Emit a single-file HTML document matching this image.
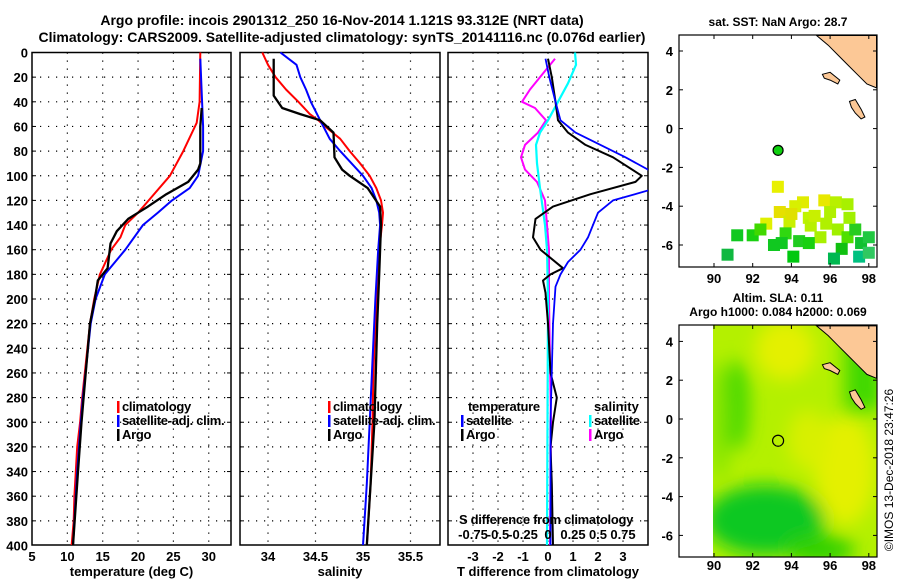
<!DOCTYPE html>
<html><head><meta charset="utf-8">
<style>
body{margin:0;background:#fff;width:900px;height:580px;overflow:hidden}
svg{display:block;font-family:"Liberation Sans",sans-serif;font-weight:bold}
text{fill:#000}
</style></head>
<body>
<svg id="chart" width="900" height="580" viewBox="0 0 900 580">
<defs>
<clipPath id="c1"><rect x="32" y="52" width="199" height="493"/></clipPath>
<clipPath id="c2"><rect x="240" y="52" width="200" height="493"/></clipPath>
<clipPath id="c3"><rect x="448" y="52" width="200" height="493"/></clipPath>
<clipPath id="cm2"><rect x="713" y="325" width="164" height="232"/></clipPath>
<filter id="bl" x="-50%" y="-50%" width="200%" height="200%"><feGaussianBlur stdDeviation="9"/></filter>
</defs>
<text x="342" y="25" font-size="14" text-anchor="middle">Argo profile: incois 2901312_250 16-Nov-2014 1.121S 93.312E (NRT data)</text>
<text x="342" y="42" font-size="14" text-anchor="middle">Climatology: CARS2009. Satellite-adjusted climatology: synTS_20141116.nc (0.076d earlier)</text>
<g id="grids"></g>
<g id="series"></g>
<g id="labels"></g>
<g id="maps"></g>
<text transform="translate(893,470) rotate(-90)" font-size="12" font-weight="normal" text-anchor="middle">©IMOS 13-Dec-2018 23:47:26</text>
</svg>
<script>
// ---------- data ----------
const depthTicks = [0,20,40,60,80,100,120,140,160,180,200,220,240,260,280,300,320,340,360,380,400];
const tempTicks = [5,10,15,20,25,30];
const salTicks = [34,34.5,35,35.5];
const tdiffTicks = [-3,-2,-1,0,1,2,3];
const sdiffTicks = [-0.75,-0.5,-0.25,0,0.25,0.5,0.75];
const sdiffLabels = ["-0.75","-0.5","-0.25","0","0.25","0.5","0.75"];

const climTDepth = [0,40,57,80,100,120,130,140,150,160,180,200,220,280,300,320,340,360,380,400];
const climTVal   = [28.8,28.7,28.3,26.4,24.5,21.5,20.0,18.2,17.5,16.2,14.6,13.8,13.2,12.1,11.8,11.4,11.2,11.0,10.9,10.6];
const satTDepth = [5,60,80,100,110,120,130,140,160,180,200,220,280,300,340,400];
const satTVal   = [28.8,29.2,29.2,28.5,27.3,24.8,22.8,20.7,18.2,15.3,14.0,13.3,12.2,11.9,11.4,10.8];
const argoTDepth = [45,60,90,95,105,115,125,130,135,145,155,175,185,200,220,280,300,340,400];
const argoTVal   = [29.0,28.8,28.8,28.5,27.1,24.0,21.4,20.0,18.6,17.0,16.1,15.7,14.3,13.9,13.2,12.3,12.0,11.5,10.8];

const climSDepth = [0,10,20,30,40,50,55,60,70,80,90,100,110,120,130,140,160,180,200,220,260,300,350,400];
const climSVal   = [33.94,34.0,34.08,34.19,34.32,34.44,34.53,34.6,34.76,34.86,34.97,35.07,35.14,35.19,35.21,35.2,35.17,35.15,35.14,35.13,35.11,35.1,35.08,35.04];
const satSDepth = [0,10,20,30,40,55,70,80,100,110,120,130,140,160,200,250,300,350,400];
const satSVal   = [34.13,34.3,34.34,34.4,34.45,34.55,34.65,34.76,35.0,35.09,35.14,35.17,35.18,35.16,35.13,35.1,35.07,35.04,35.0];
const argoSDepth = [5,35,45,50,55,65,85,95,100,110,125,140,180,220,300,400];
const argoSVal   = [34.06,34.06,34.15,34.34,34.55,34.69,34.7,34.78,34.86,35.05,35.18,35.19,35.17,35.15,35.12,35.04];

const argoTdDepth = [5,20,40,55,65,75,85,100,105,115,125,135,150,160,175,180,185,195,220,260,280,300,320,350,400];
const argoTdVal   = [0,0.15,0.3,0.4,0.8,1.5,2.6,3.75,3.5,1.7,0.2,-0.5,-0.6,-0.3,0.6,0.1,-0.2,-0.1,0,0.1,0.35,0.2,0.1,0.15,0.2];
const satTdDepth = [5,20,40,55,65,75,85,95,104,112,120,130,140,150,160,170,180,190,220,300,400];
const satTdVal   = [-0.1,0.05,0.3,0.5,1.1,2.1,3.1,4.0,5.0,4.0,2.6,2.0,1.8,1.6,1.3,0.8,0.5,0.3,0.2,0.1,0.1];
const argoSdDepth = [5,15,30,40,45,55,65,75,85,95,105,120,140,160,200,300,400];
const argoSdVal   = [0.07,-0.03,-0.18,-0.26,-0.13,-0.02,-0.1,-0.23,-0.27,-0.23,-0.11,-0.03,-0.01,0.01,0.01,0.03,0.02];
const satSdDepth = [0,10,25,40,55,65,75,90,110,140,160,200,400];
const satSdVal   = [0.27,0.28,0.2,0.1,0,-0.08,-0.12,-0.11,-0.08,-0.03,-0.01,0,-0.01];

const lonTicks = [90,92,94,96,98];
const latTicks = [4,2,0,-2,-4,-6];
const argoLon = 93.312, argoLat = -1.121;
const sstLon = [93.3,94.6,95.7,93.4,94.2,94.9,96.3,96.9,92.7,93.9,95.0,95.8,96.4,91.2,92.0,93.7,94.4,95.5,96.9,97.3,97.6,98.0,93.1,94.9,96.6,90.7,94.1,96.2,97.5,98.0,94.0,95.2,96.0,97.0,92.4,93.5];
const sstLat = [-3.0,-3.8,-3.7,-4.3,-4.0,-4.6,-3.8,-3.9,-4.9,-4.8,-5.0,-4.9,-5.2,-5.5,-5.5,-5.4,-5.8,-5.6,-5.6,-5.2,-5.9,-5.6,-6.0,-5.9,-6.2,-6.5,-6.6,-6.7,-6.6,-6.4,-4.4,-4.5,-4.3,-4.6,-5.2,-5.9];
const sstCol = ["#e8f000","#e0ec00","#e8e800","#e6e000","#d8f000","#c0f400","#b8f000","#a8f000","#e0f000","#c8f000","#b8f000","#b0f000","#a0f000","#10c820","#18d010","#30d810","#20cc20","#a8f000","#50e000","#28cc20","#10c030","#20c840","#10c820","#18d010","#10c010","#10b840","#00c810","#00b850","#00c080","#30c860","#e0e000","#c8f000","#b0f000","#a0f000","#40d800","#10c820"];
// ---------- scales ----------
const y = d => 52.5 + d*1.2325;
const tx = v => 32 + (v-5)*7.07;
const sx = v => 268 + (v-34)*95;
const dx = v => 548 + v*25;
const sdx = v => 548 + v*100;
const m1x = l => 714 + (l-90)*19.35;
const m1y = la => 51 - (la-4)*19.4;
const m2y = la => 419 - la*19.4;
const NS = "http://www.w3.org/2000/svg";
function mk(tag, attrs, parent){const e=document.createElementNS(NS,tag);for(const k in attrs)e.setAttribute(k,attrs[k]);parent.appendChild(e);return e;}
const G = document.getElementById('grids'), S = document.getElementById('series'), L = document.getElementById('labels'), M = document.getElementById('maps');

const panels = [
 {x0:32,x1:231,ticks:tempTicks,f:tx,name:'temperature-panel',xl:'temperature (deg C)'},
 {x0:240,x1:440,ticks:salTicks,f:sx,name:'salinity-panel',xl:'salinity'},
 {x0:448,x1:648,ticks:tdiffTicks,f:dx,name:'difference-panel',xl:'T difference from climatology'}];
panels.forEach((p,i)=>{
  const g = mk('g',{},G);
  
  
  depthTicks.forEach(d=>{ if(d>0&&d<400){ const l=mk('line',{x1:p.x0,x2:p.x1,y1:y(d),y2:y(d),stroke:'#000','stroke-width':1.2,'stroke-dasharray':'1.2 6.8'},g);
     
    mk('line',{x1:p.x0,x2:p.x0+4,y1:y(d),y2:y(d),stroke:'#000'},g); mk('line',{x1:p.x1-4,x2:p.x1,y1:y(d),y2:y(d),stroke:'#000'},g);} });
  p.ticks.forEach(t=>{ const X=p.f(t); if(X>p.x0+2&&X<p.x1-2){ const l=mk('line',{x1:X,x2:X,y1:52.5,y2:545,stroke:'#000','stroke-width':1.2,'stroke-dasharray':'1.2 6.8'},g);
      }
    const tt=mk('text',{x:X,y:561,'font-size':13,'text-anchor':'middle'},L); tt.textContent=String(t);
      });
  const r=mk('rect',{x:p.x0,y:52.5,width:p.x1-p.x0,height:492.5,fill:'none',stroke:'#000','stroke-width':1.5},g);
   
  const xl=mk('text',{x:(p.x0+p.x1)/2,y:576,'font-size':13,'text-anchor':'middle'},L); xl.textContent=p.xl;
   
});
depthTicks.forEach(d=>{ const t=mk('text',{x:28,y:y(d)+5,'font-size':13,'text-anchor':'end'},L); t.textContent=String(d);
    });

function line(ds, vs, f, color, w, clip, name){
  const pts = ds.map((d,i)=>f(vs[i]).toFixed(1)+','+y(d).toFixed(1)).join(' ');
  const e = mk('polyline',{points:pts,fill:'none',stroke:color,'stroke-width':w,'stroke-linejoin':'round','clip-path':'url(#'+clip+')'},S);
  
  
}
line(climTDepth,climTVal,tx,'#f00',2,'c1','climatology-temperature-line');
line(satTDepth,satTVal,tx,'#00f',2,'c1','satellite-temperature-line');
line(argoTDepth,argoTVal,tx,'#000',2.3,'c1','argo-temperature-line');
line(climSDepth,climSVal,sx,'#f00',2,'c2','climatology-salinity-line');
line(satSDepth,satSVal,sx,'#00f',2,'c2','satellite-salinity-line');
line(argoSDepth,argoSVal,sx,'#000',2.3,'c2','argo-salinity-line');
line(argoSdDepth,argoSdVal,sdx,'#f0f',2,'c3','argo-s-diff-line');
line(satSdDepth,satSdVal,sdx,'#0ff',2.2,'c3','satellite-s-diff-line');
line(argoTdDepth,argoTdVal,dx,'#000',2,'c3','argo-t-diff-line');
line(satTdDepth,satTdVal,dx,'#00f',1.8,'c3','satellite-t-diff-line');

function legend(x, yy, color, label, name){
  const g=mk('g',{},L);
  
  
  mk('rect',{x:x,y:yy-10,width:2.5,height:12,fill:color},g);
  const t=mk('text',{x:x+5,y:yy,'font-size':13,'letter-spacing':'-0.3'},g); t.textContent=label;
}
legend(117,411,'#f00','climatology','legend-climatology');
legend(117,425,'#00f','satellite-adj. clim.','legend-satellite');
legend(117,439,'#000','Argo','legend-argo');
legend(328,411,'#f00','climatology','legend-climatology-2');
legend(328,425,'#00f','satellite-adj. clim.','legend-satellite-2');
legend(328,439,'#000','Argo','legend-argo-2');
let t=mk('text',{x:468,y:411,'font-size':13,'letter-spacing':'-0.3'},L); t.textContent='temperature';
 
t=mk('text',{x:594,y:411,'font-size':13},L); t.textContent='salinity';
 
legend(461,425,'#00f','satellite','legend-t-satellite');
legend(461,439,'#000','Argo','legend-t-argo');
legend(589,425,'#0ff','satellite','legend-s-satellite');
legend(589,439,'#f0f','Argo','legend-s-argo');
t=mk('text',{x:546,y:524,'font-size':13,'text-anchor':'middle','letter-spacing':'-0.3'},L); t.textContent='S difference from climatology';
 
sdiffTicks.forEach((v,i)=>{ const e=mk('text',{x:sdx(v),y:539,'font-size':13,'text-anchor':'middle'},L); e.textContent=sdiffLabels[i];
    });

// ---------- maps ----------
function land(g, fy){
  const P = (pts)=>pts.map(p=>m1x(p[0]).toFixed(1)+','+fy(p[1]).toFixed(1)).join(' ');
  const a=mk('polygon',{points:P([[95.3,4.8],[98.4,4.8],[98.4,2.1],[97.9,2.3],[97.4,2.8],[96.9,3.3],[96.4,3.8],[95.9,4.3]]),fill:'#fcc896',stroke:'#000','stroke-width':1},g);
   
  const b=mk('polygon',{points:P([[95.6,2.8],[96.0,2.9],[96.5,2.5],[96.4,2.3],[96.0,2.5],[95.7,2.6]]),fill:'#fcc896',stroke:'#000','stroke-width':1},g);
   
  const c=mk('polygon',{points:P([[97.0,1.4],[97.3,1.5],[97.6,1.0],[97.8,0.6],[97.6,0.5],[97.3,0.8],[97.1,1.1]]),fill:'#fcc896',stroke:'#000','stroke-width':1},g);
   
}
function axes(g, x0, y0, w, h, fy, lonY){
  latTicks.forEach(la=>{ const Y=fy(la);
    mk('line',{x1:x0,x2:x0+4,y1:Y,y2:Y,stroke:'#000'},g); mk('line',{x1:x0+w-4,x2:x0+w,y1:Y,y2:Y,stroke:'#000'},g);
    const e=mk('text',{x:673,y:Y+5,'font-size':13,'text-anchor':'end'},g); e.textContent=String(la);
      });
  lonTicks.forEach(lo=>{ const X=m1x(lo);
    mk('line',{x1:X,x2:X,y1:y0,y2:y0+4,stroke:'#000'},g); mk('line',{x1:X,x2:X,y1:y0+h-4,y2:y0+h,stroke:'#000'},g);
    const e=mk('text',{x:X,y:lonY,'font-size':13,'text-anchor':'middle'},g); e.textContent=String(lo);
      });
  const r=mk('rect',{x:x0,y:y0,width:w,height:h,fill:'none',stroke:'#000','stroke-width':1.2},g);
   
}
const g1=mk('g',{},M);
 
t=mk('text',{x:778,y:26,'font-size':12,'text-anchor':'middle'},g1); t.textContent='sat. SST: NaN Argo: 28.7';
 
sstLon.forEach((lo,i)=>{ const r=mk('rect',{x:m1x(lo)-6,y:m1y(sstLat[i])-6,width:12,height:12,fill:sstCol[i]},g1);
    });
land(g1,m1y);
let ap=mk('circle',{cx:m1x(argoLon),cy:m1y(argoLat),r:5,fill:'#10d010',stroke:'#000','stroke-width':1.2},g1);
 
axes(g1,679,35,198,232,m1y,283);

const g2=mk('g',{},M);
 
t=mk('text',{x:778,y:302,'font-size':12,'text-anchor':'middle'},g2); t.textContent='Altim. SLA: 0.11';
 
t=mk('text',{x:778,y:316,'font-size':12,'text-anchor':'middle'},g2); t.textContent='Argo h1000: 0.084 h2000: 0.069';
 
const fg=mk('g',{'clip-path':'url(#cm2)'},g2);
mk('rect',{x:713,y:325,width:164,height:232,fill:'#b4f000'},fg);
const bf=mk('g',{filter:'url(#bl)'},fg);
mk('ellipse',{cx:785,cy:350,rx:30,ry:30,fill:'#e4f000'},bf);
mk('ellipse',{cx:845,cy:470,rx:30,ry:55,fill:'#e4f000'},bf);
mk('ellipse',{cx:808,cy:440,rx:20,ry:30,fill:'#d8f000'},bf);
mk('ellipse',{cx:737,cy:405,rx:12,ry:45,fill:'#40d800'},bf);
mk('ellipse',{cx:720,cy:420,rx:10,ry:60,fill:'#80e400'},bf);
mk('ellipse',{cx:765,cy:520,rx:60,ry:35,fill:'#10c820'},bf);
mk('ellipse',{cx:820,cy:550,rx:35,ry:15,fill:'#30d000'},bf);
mk('rect',{x:845,y:330,width:37,height:80,fill:'#40d800',filter:'url(#bl)'},fg);
land(g2,m2y);
ap=mk('circle',{cx:m1x(argoLon),cy:m2y(argoLat),r:5.5,fill:'none',stroke:'#000','stroke-width':1.2},g2);
 
axes(g2,679,325,198,232,m2y,570);
</script>
</body></html>
